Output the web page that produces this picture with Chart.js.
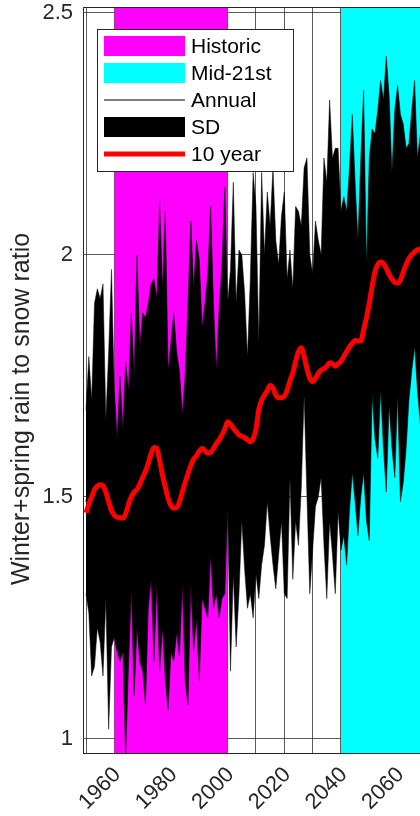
<!DOCTYPE html>
<html>
<head>
<meta charset="utf-8">
<script src="https://cdn.jsdelivr.net/npm/chart.js@4.4.1/dist/chart.umd.min.js"></script>
<style>
html,body{margin:0;padding:0;background:#fff;overflow:hidden}
canvas{display:block}
</style>
</head>
<body>
<canvas id="c" width="420" height="816" style="width:420px;height:816px"></canvas>
<script>
// ---------- DATA ----------
const years = [
1950,1951,1952,1953,1954,1955,1956,1957,1958,1959,
1960,1961,1962,1963,1964,1965,1966,1967,1968,1969,
1970,1971,1972,1973,1974,1975,1976,1977,1978,1979,
1980,1981,1982,1983,1984,1985,1986,1987,1988,1989,
1990,1991,1992,1993,1994,1995,1996,1997,1998,1999,
2000,2001,2002,2003,2004,2005,2006,2007,2008,2009,
2010,2011,2012,2013,2014,2015,2016,2017,2018,2019,
2020,2021,2022,2023,2024,2025,2026,2027,2028,2029,
2030,2031,2032,2033,2034,2035,2036,2037,2038,2039,
2040,2041,2042,2043,2044,2045,2046,2047,2048,2049,
2050,2051,2052,2053,2054,2055,2056,2057,2058,2059,
2060,2061,2062,2063,2064,2065,2066,2067,2068];

const sdUpper = [
1.68,1.79,1.70,1.90,1.93,1.91,1.94,1.66,1.80,1.97,
1.72,1.62,1.75,1.64,1.78,1.72,1.88,1.75,2.00,1.81,
1.88,1.87,1.90,1.94,1.95,1.91,2.11,1.93,2.09,1.76,
1.82,1.88,1.80,1.76,1.67,1.75,1.90,2.07,1.93,2.03,
1.99,1.85,1.90,1.96,2.10,1.90,1.76,1.89,1.98,2.14,
1.90,1.97,2.15,1.90,2.01,2.00,1.92,1.79,1.95,2.17,
2.10,1.82,2.17,2.00,2.13,2.06,2.18,2.03,1.98,2.08,
2.13,1.95,2.01,1.93,2.10,2.09,2.06,2.18,2.20,2.00,
1.96,2.07,2.03,2.00,2.20,2.15,2.32,2.20,2.22,2.22,
2.09,2.12,2.09,2.18,2.29,2.15,2.03,2.20,2.34,1.98,
2.20,2.26,2.25,2.30,2.36,2.32,2.41,2.33,2.17,2.30,
2.35,2.29,2.27,2.22,2.23,2.30,2.36,2.20,2.25];

const sdLower = [
1.30,1.26,1.13,1.15,1.23,1.20,1.13,1.29,1.02,1.19,
1.21,1.18,1.16,1.18,0.96,1.15,1.31,1.09,1.23,1.16,
1.14,1.07,1.27,1.33,1.16,1.32,1.14,1.23,1.12,1.06,
1.18,1.16,1.22,1.17,1.32,1.12,1.07,1.32,1.18,1.25,
1.12,1.29,1.27,1.25,1.38,1.27,1.30,1.25,1.29,1.30,
1.48,1.14,1.34,1.19,1.30,1.45,1.35,1.27,1.30,1.25,
1.34,1.29,1.36,1.40,1.49,1.42,1.36,1.31,1.38,1.45,
1.30,1.29,1.54,1.33,1.45,1.40,1.52,1.71,1.50,1.30,
1.39,1.48,1.50,1.54,1.40,1.29,1.45,1.38,1.30,1.47,
1.39,1.42,1.36,1.47,1.55,1.49,1.42,1.50,1.55,1.45,
1.41,1.71,1.62,1.58,1.72,1.60,1.51,1.69,1.60,1.54,
1.71,1.49,1.53,1.60,1.70,1.76,1.81,1.72,1.65];

const annual = [
1.49,1.53,1.41,1.53,1.58,1.56,1.53,1.47,1.41,1.58,
1.47,1.40,1.46,1.41,1.38,1.44,1.60,1.42,1.62,1.48,
1.51,1.47,1.59,1.64,1.56,1.61,1.63,1.58,1.61,1.41,
1.50,1.52,1.51,1.46,1.49,1.44,1.49,1.69,1.55,1.64,
1.55,1.57,1.59,1.61,1.74,1.59,1.53,1.57,1.63,1.72,
1.69,1.56,1.74,1.55,1.66,1.72,1.64,1.53,1.63,1.71,
1.72,1.56,1.76,1.70,1.81,1.74,1.77,1.67,1.68,1.76,
1.72,1.62,1.78,1.63,1.77,1.75,1.79,1.94,1.85,1.65,
1.68,1.77,1.77,1.77,1.80,1.72,1.89,1.79,1.76,1.84,
1.74,1.77,1.73,1.83,1.92,1.82,1.73,1.85,1.94,1.71,
1.81,1.99,1.93,1.94,2.04,1.96,1.96,2.01,1.89,1.92,
2.03,1.89,1.90,1.91,1.97,2.03,2.09,1.96,1.95];

const tenYear = [
1.467,1.485,1.500,1.515,1.522,1.525,1.523,1.510,1.490,1.472,
1.462,1.458,1.457,1.456,1.465,1.485,1.500,1.510,1.515,1.527,
1.540,1.553,1.570,1.590,1.602,1.600,1.575,1.545,1.520,1.497,
1.482,1.477,1.478,1.490,1.510,1.530,1.548,1.565,1.578,1.585,
1.595,1.600,1.595,1.590,1.592,1.600,1.610,1.618,1.628,1.640,
1.655,1.650,1.642,1.635,1.628,1.625,1.622,1.618,1.614,1.620,
1.640,1.680,1.700,1.710,1.720,1.730,1.725,1.710,1.705,1.705,
1.708,1.720,1.740,1.756,1.780,1.800,1.808,1.790,1.765,1.745,
1.738,1.745,1.755,1.762,1.765,1.770,1.777,1.775,1.770,1.775,
1.780,1.790,1.800,1.810,1.817,1.823,1.822,1.822,1.845,1.870,
1.900,1.935,1.965,1.980,1.985,1.982,1.972,1.960,1.950,1.943,
1.942,1.948,1.965,1.980,1.992,2.000,2.006,2.010,2.013];

const historicPeriod = [1960, 2000];
const midCenturyPeriod = [2040, 2070];

const xGridYears = [1950,1960,1970,1980,1990,2000,2010,2020,2030,2040,2050,2060];
const xTickLabels = [1960,1980,2000,2020,2040,2060];
const yTicks = [1, 1.5, 2, 2.5];
const yTitle = 'Winter+spring rain to snow ratio';

const X_RANGE = [1948.94, 2067.9];
const Y_RANGE = [0.971, 2.512];

// ---------- STYLE ----------
const INK = '#262626';
const FONT = "'Liberation Sans', Arial, Helvetica, sans-serif";
const GRID = 'rgba(38,38,38,0.75)';

const pts = vals => years.map((yr, i) => ({x: yr, y: vals[i]}));
const bandPts = period => period.map(yr => ({x: yr, y: Y_RANGE[1]}));

const datasets = [
  {label:'10 year', data: pts(tenYear), borderColor:'#ff0000', borderWidth:5,
   pointRadius:0, fill:false, cubicInterpolationMode:'monotone', order:0},
  {label:'Annual', data: pts(annual), borderColor:'#000000', borderWidth:1,
   pointRadius:0, fill:false, order:1},
  {label:'SD', data: pts(sdUpper), borderColor:'#000000', borderWidth:0.5,
   backgroundColor:'#000000', pointRadius:0, fill:3, order:2},
  {label:'SD lower', data: pts(sdLower), borderColor:'#000000', borderWidth:0.5,
   pointRadius:0, fill:false, order:3},
  {label:'Historic', data: bandPts(historicPeriod), borderColor:'rgba(0,0,0,0)', borderWidth:0,
   backgroundColor:'#ff00ff', pointRadius:0, fill:'start', order:4},
  {label:'Mid-21st', data: bandPts(midCenturyPeriod), borderColor:'rgba(0,0,0,0)', borderWidth:0,
   backgroundColor:'#00ffff', pointRadius:0, fill:'start', order:5}
];

const legendOrder = [
  {label:'Historic', kind:'box'},
  {label:'Mid-21st', kind:'box'},
  {label:'Annual', kind:'line'},
  {label:'SD', kind:'box'},
  {label:'10 year', kind:'line'}
];

const decorations = {
  id:'decorations',
  afterDraw(chart){
    const {ctx, chartArea:a} = chart;
    ctx.save();
    // axes box top edge
    ctx.strokeStyle = INK; ctx.lineWidth = 1;
    ctx.beginPath(); ctx.moveTo(a.left, a.top + 0.5); ctx.lineTo(a.right, a.top + 0.5); ctx.stroke();
    // y-axis title
    ctx.save();
    ctx.translate(22, (a.top + a.bottom) / 2 + 29);
    ctx.rotate(-Math.PI / 2);
    ctx.font = '25px ' + FONT;
    ctx.fillStyle = INK; ctx.textAlign = 'center'; ctx.textBaseline = 'middle';
    ctx.fillText(yTitle, 0, 0);
    ctx.restore();
    // legend
    const x0 = a.left + 14, y0 = a.top + 22, w = 196, h = 142;
    ctx.fillStyle = '#ffffff'; ctx.fillRect(x0, y0, w, h);
    ctx.strokeStyle = INK; ctx.lineWidth = 1;
    ctx.strokeRect(x0 + 0.5, y0 + 0.5, w, h);
    ctx.font = '21px ' + FONT;
    ctx.textBaseline = 'middle'; ctx.textAlign = 'left';
    legendOrder.forEach((item, i) => {
      const ds = chart.data.datasets.find(d => d.label === item.label);
      const cy = y0 + 17 + i * 27;
      const sx = x0 + 7, sw = 81;
      if (item.kind === 'box') {
        ctx.fillStyle = ds.backgroundColor;
        ctx.fillRect(sx, cy - 10, sw, 20);
      } else {
        ctx.strokeStyle = ds.borderColor;
        ctx.lineWidth = ds.borderWidth;
        ctx.beginPath(); ctx.moveTo(sx, cy); ctx.lineTo(sx + sw, cy); ctx.stroke();
      }
      ctx.fillStyle = '#000000';
      ctx.fillText(ds.label, sx + sw + 6, cy + 1);
    });
    ctx.restore();
  }
};

new Chart(document.getElementById('c'), {
  type:'line',
  data:{datasets},
  options:{
    responsive:false, animation:false, devicePixelRatio:1,
    layout:{padding:{top:7, left:0, right:0, bottom:0}},
    plugins:{legend:{display:false}, tooltip:{enabled:false}},
    scales:{
      x:{
        type:'linear', min:X_RANGE[0], max:X_RANGE[1],
        afterBuildTicks(s){ s.ticks = xGridYears.map(v => ({value:v})); },
        afterFit(s){ s.height = 63; s.paddingLeft = 0; s.paddingRight = 0; },
        ticks:{autoSkip:false, minRotation:45, maxRotation:45, padding:9, labelOffset:3, color:INK,
               font:{family:FONT, size:22},
               callback:v => xTickLabels.includes(v) ? String(v) : ''},
        grid:{color:GRID, lineWidth:1, drawTicks:false},
        border:{display:true, color:INK, width:1}
      },
      y:{
        min:Y_RANGE[0], max:Y_RANGE[1],
        afterBuildTicks(s){ s.ticks = yTicks.map(v => ({value:v})); },
        afterFit(s){ s.width = 83; s.paddingTop = 0; s.paddingBottom = 0; },
        ticks:{padding:10, color:INK, font:{family:FONT, size:22}, callback:v => String(v)},
        grid:{color:GRID, lineWidth:1, drawTicks:false},
        border:{display:true, color:INK, width:1},
        title:{display:false, text:yTitle}
      }
    }
  },
  plugins:[decorations]
});
</script>
</body>
</html>
